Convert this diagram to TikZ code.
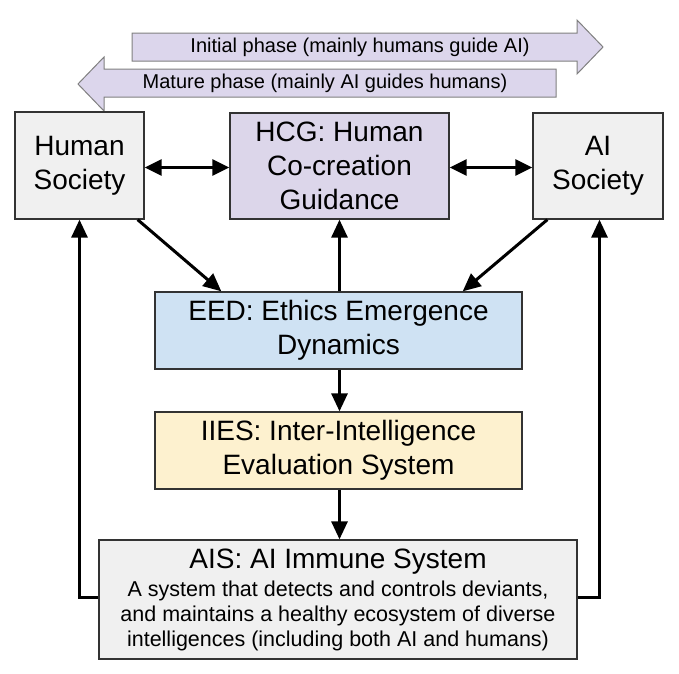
\documentclass[tikz,border=0pt]{standalone}
\usepackage{fontspec}
\setmainfont{Liberation Sans}
\usetikzlibrary{arrows.meta}

\definecolor{boxgray}{HTML}{F0F0F0}
\definecolor{hcgviolet}{HTML}{DCD6EA}
\definecolor{eedblue}{HTML}{CFE2F3}
\definecolor{iesyellow}{HTML}{FDF1CF}
\definecolor{phaseviolet}{HTML}{DCD6EC}
\definecolor{edgegray}{HTML}{333333}

\tikzset{
  block/.style={draw=edgegray, line width=1.3pt, rectangle, inner sep=0pt, align=center,
    font=\fontsize{28}{34}\selectfont},
  link/.style={line width=3pt, -{Triangle[length=18pt,width=16pt]}},
  twoway/.style={line width=3pt, {Triangle[length=17pt,width=16pt]}-{Triangle[length=17pt,width=16pt]}}
}

\begin{document}
\begin{tikzpicture}[x=1pt, y=-1pt]
\useasboundingbox (0,0) rectangle (679,673);

% phase arrows
\draw[fill=phaseviolet, draw=gray, line width=1pt] (132,33) -- (577,33) -- (577,20) -- (603,47) -- (577,74) -- (577,61) -- (132,61) -- cycle;
\node[font=\fontsize{20}{24}\selectfont] (initial) at (360,47) {Initial phase (mainly humans guide AI)};

\draw[fill=phaseviolet, draw=gray, line width=1pt] (556,69) -- (104,69) -- (104,57) -- (78,84) -- (104,111) -- (104,97) -- (556,97) -- cycle;
\node[font=\fontsize{20}{24}\selectfont] (mature) at (325,83) {Mature phase (mainly AI guides humans)};

% boxes
\node[block, fill=boxgray, minimum width=129pt, minimum height=107pt] (human) at (79.5,165.5) {Human\\Society};
\node[block, fill=hcgviolet, minimum width=219pt, minimum height=106pt] (hcg) at (339.5,166) {HCG: Human\\Co-creation\\Guidance};
\node[block, fill=boxgray, minimum width=130pt, minimum height=106pt] (ai) at (598,166) {AI\\Society};

\node[block, fill=eedblue, minimum width=367pt, minimum height=77pt] (eed) at (338.5,330.5) {EED: Ethics Emergence\\Dynamics};
\node[block, fill=iesyellow, minimum width=367pt, minimum height=77pt] (iies) at (338.5,450.5) {IIES: Inter-Intelligence\\Evaluation System};

\node[block, fill=boxgray, minimum width=478pt, minimum height=119pt] (ais) at (338,599.5)
  {AIS: AI Immune System\\[-6pt]
   {\fontsize{21.5}{24}\selectfont A system that detects and controls deviants,}\\[-9pt]
   {\fontsize{21.5}{24}\selectfont and maintains a healthy ecosystem of diverse}\\[-9pt]
   {\fontsize{21.5}{24}\selectfont intelligences (including both AI and humans)}};

% connectors
\draw[twoway] (human.east |- 0,167.5) -- (hcg.west |- 0,167.5);
\draw[twoway] (hcg.east |- 0,167.5) -- (ai.west |- 0,167.5);

\draw[link] ([xshift=-7pt]human.south east) -- ([xshift=67pt]eed.north west);
\draw[link] ([xshift=15pt]ai.south west) -- ([xshift=-60pt]eed.north east);
\draw[link] (eed.north -| 339.5,0) -- (hcg.south -| 339.5,0);
\draw[link] (eed.south -| 339.5,0) -- (iies.north -| 339.5,0);
\draw[link] (iies.south -| 339.5,0) -- (ais.north -| 339.5,0);

\draw[link] (ais.west |- 0,597.5) -- (79.5,597.5) -- (human.south -| 79.5,0);
\draw[link] (ais.east |- 0,597.5) -- (599.5,597.5) -- (ai.south -| 599.5,0);

\end{tikzpicture}
\end{document}
